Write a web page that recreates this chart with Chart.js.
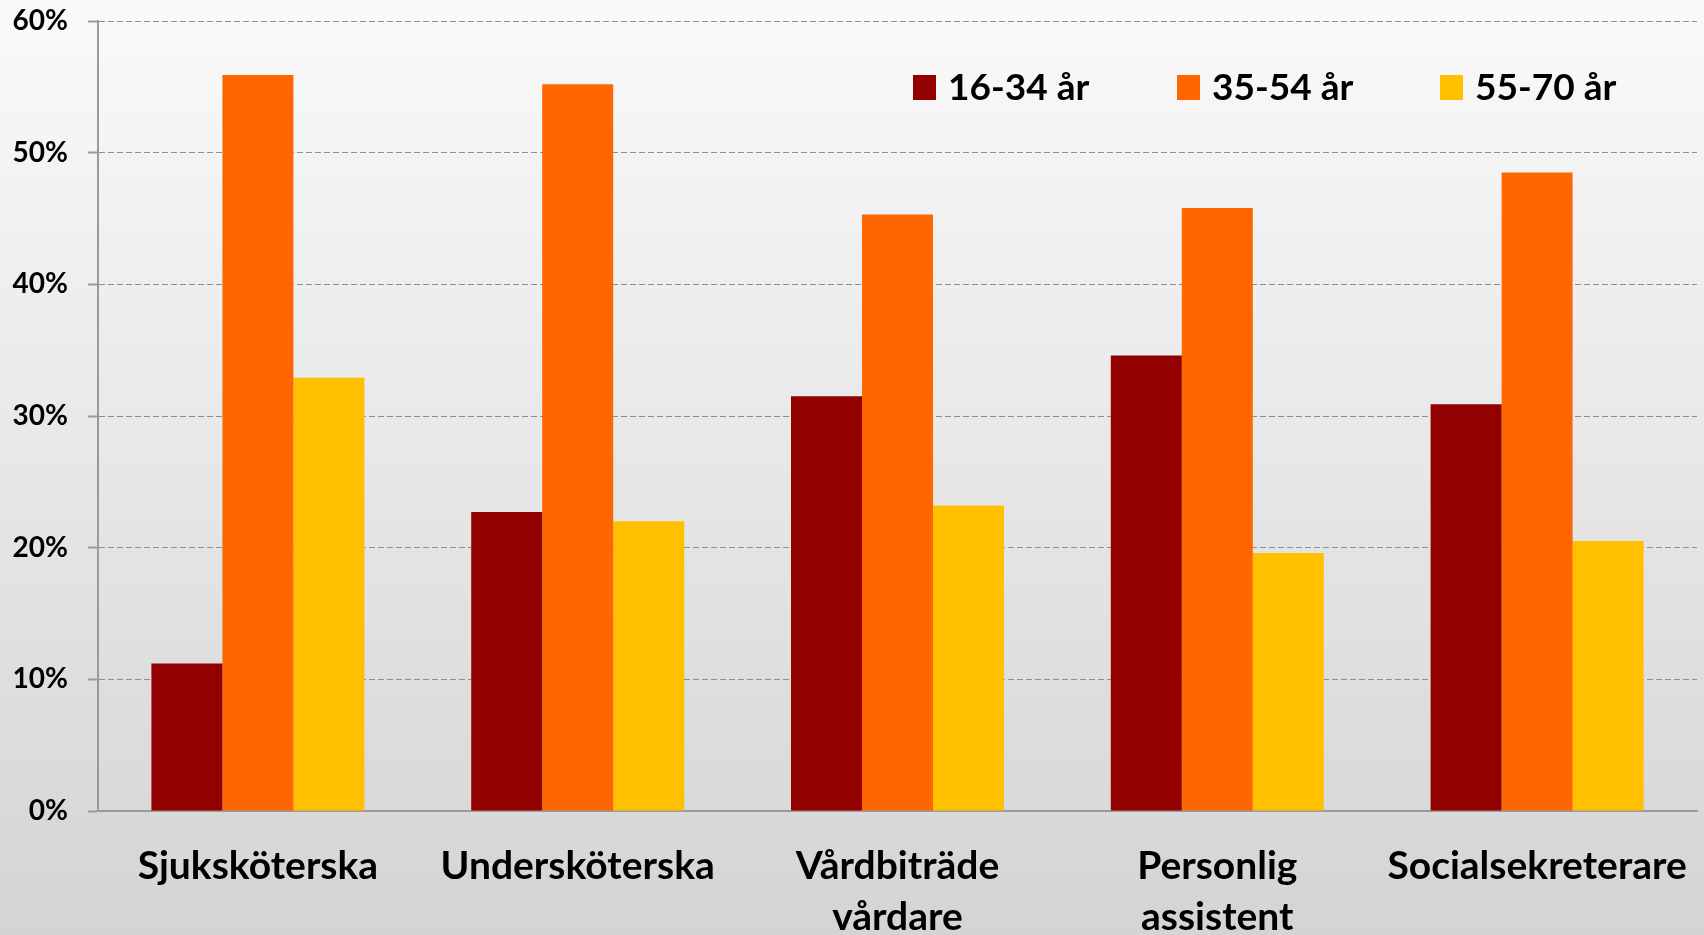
<!DOCTYPE html>
<html lang="sv">
<head>
  <meta charset="UTF-8" />
  <title>Åldersfördelning per yrke</title>
  <script src="https://cdn.jsdelivr.net/npm/chart.js"></script>
  <style>
    html, body {
      margin: 0;
      padding: 0;
    }
    body {
      width: 1704px;
      height: 935px;
      overflow: hidden;
      background: linear-gradient(to bottom, #fafafa 0%, #d4d4d4 100%);
      font-family: 'Lato', 'Open Sans', sans-serif;
    }
    canvas {
      display: block;
    }
  </style>
</head>
<body>
  <canvas id="ageChart" width="1704" height="935"></canvas>

  <script>
    const categories = [
      'Sjuksköterska',
      'Undersköterska',
      ['Vårdbiträde', 'vårdare'],
      ['Personlig', 'assistent'],
      'Socialsekreterare'
    ];
    const seriesNames = ['16-34 år', '35-54 år', '55-70 år'];
    const age16to34 = [11.2, 22.7, 31.5, 34.6, 30.9];
    const age35to54 = [55.9, 55.2, 45.3, 45.8, 48.5];
    const age55to70 = [32.9, 22.0, 23.2, 19.6, 20.5];
    const yTicks = [0, 10, 20, 30, 40, 50, 60];

    const colors = ['#920000', '#ff6600', '#ffc000'];
    const FONT = 'Lato';

    // legend drawn inside the plot area, one row, top right
    const legendX = [913, 1177, 1440];
    const inlineLegend = {
      id: 'inlineLegend',
      afterDraw(chart) {
        const ctx = chart.ctx;
        ctx.save();
        ctx.font = 'bold 37px ' + FONT;
        ctx.textBaseline = 'middle';
        ctx.textAlign = 'left';
        chart.data.datasets.forEach((ds, i) => {
          const x = legendX[i];
          ctx.fillStyle = ds.backgroundColor;
          ctx.fillRect(x, 75, 23, 25);
          ctx.fillStyle = '#000';
          ctx.fillText(ds.label, x + 35, 88);
        });
        ctx.restore();
      }
    };

    new Chart(document.getElementById('ageChart'), {
      type: 'bar',
      data: {
        labels: categories,
        datasets: [
          { label: seriesNames[0], data: age16to34, backgroundColor: colors[0] },
          { label: seriesNames[1], data: age35to54, backgroundColor: colors[1] },
          { label: seriesNames[2], data: age55to70, backgroundColor: colors[2] }
        ]
      },
      options: {
        responsive: false,
        animation: false,
        layout: {
          padding: { top: 21, right: 7, bottom: 0, left: 0 }
        },
        datasets: {
          bar: {
            categoryPercentage: 0.666,
            barPercentage: 1.0
          }
        },
        plugins: {
          tooltip: { enabled: false },
          legend: { display: false }
        },
        scales: {
          x: {
            grid: { display: false },
            border: { display: true, color: '#9a9a9a', width: 2 },
            ticks: {
              color: '#000',
              padding: 22,
              maxRotation: 0,
              autoSkip: false,
              font: { family: FONT, size: 39, weight: 'bold', lineHeight: 1.3 }
            },
            afterFit(scale) {
              scale.height = 124;
              scale.paddingLeft = 0;
              scale.paddingRight = 0;
            }
          },
          y: {
            min: 0,
            max: 60,
            afterBuildTicks(scale) {
              scale.ticks = yTicks.map(v => ({ value: v }));
            },
            grid: {
              color: '#8f8f8f',
              lineWidth: 1,
              drawTicks: true,
              tickLength: 10,
              tickColor: '#9a9a9a',
              tickWidth: 2,
              tickBorderDash: []
            },
            border: { display: true, color: '#9a9a9a', width: 2, dash: [6, 3] },
            ticks: {
              color: '#000',
              padding: 20,
              font: { family: FONT, size: 28, weight: 'bold' },
              callback: v => v + '%'
            },
            afterFit(scale) {
              scale.width = 98;
              scale.paddingTop = 0;
              scale.paddingBottom = 0;
            }
          }
        }
      },
      plugins: [inlineLegend]
    });
  </script>
</body>
</html>
